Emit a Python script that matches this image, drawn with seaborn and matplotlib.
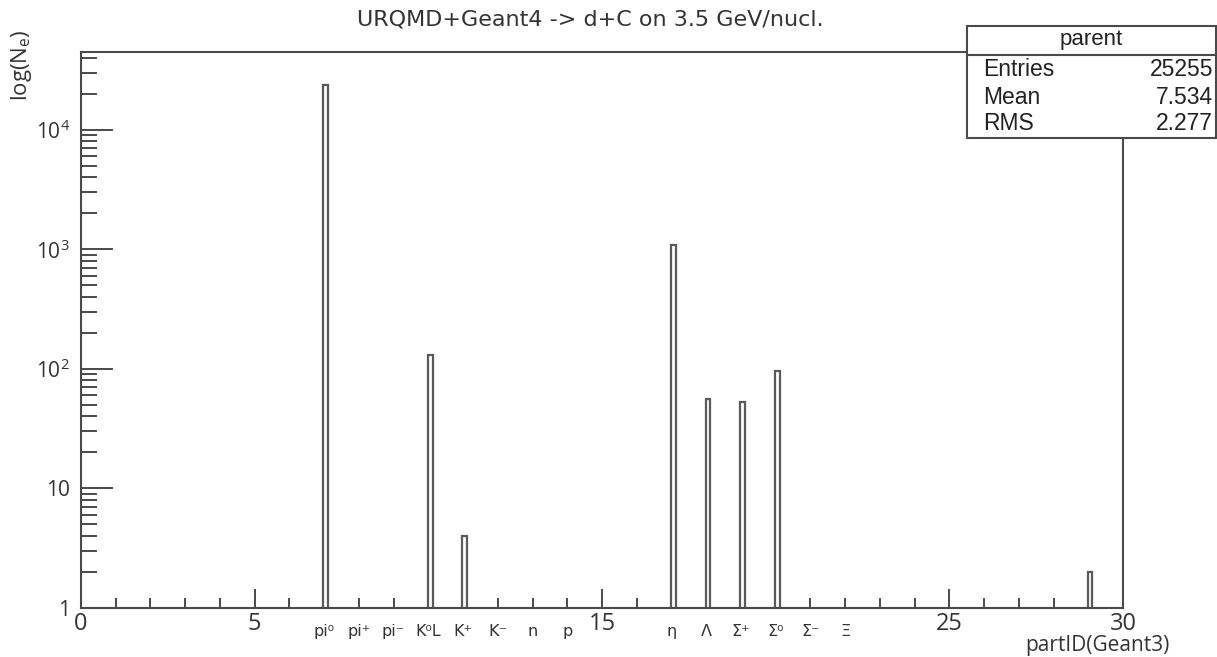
import numpy as np
import pandas as pd
import matplotlib
matplotlib.use("Agg")
import matplotlib.pyplot as plt
from matplotlib.patches import Rectangle
from matplotlib.lines import Line2D
import seaborn as sns

# ---- data (Geant3 particle IDs and counts) ----
part_ids = [7, 10, 11, 17, 18, 19, 20, 29]
counts = [23823, 131, 4, 1090, 56, 53, 96, 2]

major_ticks = [0, 5, 10, 15, 20, 25, 30]
major_labels = ["0", "5", "", "15", "", "25", "30"]
particle_pos = [7, 8, 9, 10, 11, 12, 13, 14, 17, 18, 19, 20, 21, 22]
particle_labels = ["pi⁰", "pi⁺", "pi⁻", "K⁰L", "K⁺", "K⁻", "n", "p",
                   "η", "Λ", "Σ⁺", "Σ⁰", "Σ⁻", "Ξ"]
y_ticks = [1, 10, 100, 1000, 10000]
y_labels = ["1", "10", "10$^{2}$", "10$^{3}$", "10$^{4}$"]
stats_names = ["Entries", "Mean", "RMS"]
stats_values = ["25255", "7.534", "2.277"]

sns.set_theme(style="ticks")
plt.rcParams["font.family"] = ["Open Sans", "DejaVu Sans"]
plt.rcParams["mathtext.default"] = "regular"

W, H = 1217, 657
fig = plt.figure(figsize=(W / 100, H / 100), dpi=100)
left, right, bottom, top = 81, 1123, 608, 52
ax = fig.add_axes([left / W, 1 - bottom / H, (right - left) / W, (bottom - top) / H])

df = pd.DataFrame({"pid": part_ids, "n": counts})
edges = []
for p in part_ids:
    edges += [p - 0.02, p + 0.12]
sns.histplot(data=df, x="pid", weights="n", bins=edges, ax=ax,
             fill=True, color="white", edgecolor="#5a5a5a", linewidth=1.6,
             element="bars", alpha=1)
# remove empty gap bins
for patch in list(ax.patches):
    if patch.get_height() <= 0:
        patch.remove()

ax.set_yscale("log")
ax.set_xlim(0, 30)
ax.set_ylim(1, 10 ** 4.65)

frame_c = "#4a4a4a"
txt_c = "#333333"
for s in ax.spines.values():
    s.set_color(frame_c)
    s.set_linewidth(1.5)

ax.set_xticks(major_ticks)
ax.set_xticklabels(major_labels, fontsize=17)
ax.set_xticks(range(0, 31), minor=True)
ax.tick_params(axis="x", which="major", direction="in", length=14, width=1.4,
               color=frame_c, pad=3, labelcolor=txt_c)
ax.tick_params(axis="x", which="minor", direction="in", length=7, width=1.4,
               color=frame_c)
ax.set_yticks(y_ticks)
ax.set_yticklabels(y_labels, fontsize=15)
ax.yaxis.set_minor_locator(matplotlib.ticker.LogLocator(base=10, subs=np.arange(2, 10)))
ax.yaxis.set_minor_formatter(matplotlib.ticker.NullFormatter())
ax.tick_params(axis="y", which="major", direction="in", length=23, width=1.4,
               color=frame_c, pad=8, labelcolor=txt_c)
ax.tick_params(axis="y", which="minor", direction="in", length=11.5, width=1.4,
               color=frame_c)
ax.set_xlabel("")
ax.set_ylabel("")

for xp, lab in zip(particle_pos, particle_labels):
    ax.text(xp, -0.028, lab, transform=ax.get_xaxis_transform(), ha="center",
            va="top", fontsize=11.5, color=txt_c, family=["DejaVu Sans"])

fig.text(1170 / W, 1 - 656 / H, "partID(Geant3)", ha="right", va="bottom",
         fontsize=15, color=txt_c)
fig.text(21 / W, 1 - 29 / H, "log(N$_e$)", rotation=90, ha="center", va="top",
         fontsize=16, color=txt_c)
fig.text(590 / W, 1 - 20 / H, "URQMD+Geant4 -> d+C on 3.5 GeV/nucl.", ha="center",
         va="center", fontsize=16, color=txt_c, family=["DejaVu Sans"])

# stats box
bx0, bx1, by0, by1 = 967, 1216, 26, 138
fig.patches.append(Rectangle((bx0 / W, 1 - by1 / H), (bx1 - bx0) / W, (by1 - by0) / H,
                             transform=fig.transFigure, facecolor="white",
                             edgecolor=frame_c, linewidth=1.5, zorder=5))
fig.lines.append(Line2D([bx0 / W, bx1 / W], [1 - 55 / H, 1 - 55 / H],
                        transform=fig.transFigure, color=frame_c, linewidth=1.5, zorder=6))
fig.text((bx0 + bx1) / 2 / W, 1 - 40 / H, "parent", ha="center", va="center",
         fontsize=16, family="Liberation Sans", color="#222222", zorder=7)
for i, (nm, val) in enumerate(zip(stats_names, stats_values)):
    yy = 1 - (70 + 27 * i) / H
    fig.text(983 / W, yy, nm, ha="left", va="center", fontsize=16.5,
             family="Liberation Sans", color="#222222", zorder=7)
    fig.text(1213 / W, yy, val, ha="right", va="center", fontsize=16.5,
             family="Liberation Sans", color="#222222", zorder=7)

fig.savefig("out.png", dpi=100, facecolor="white")
